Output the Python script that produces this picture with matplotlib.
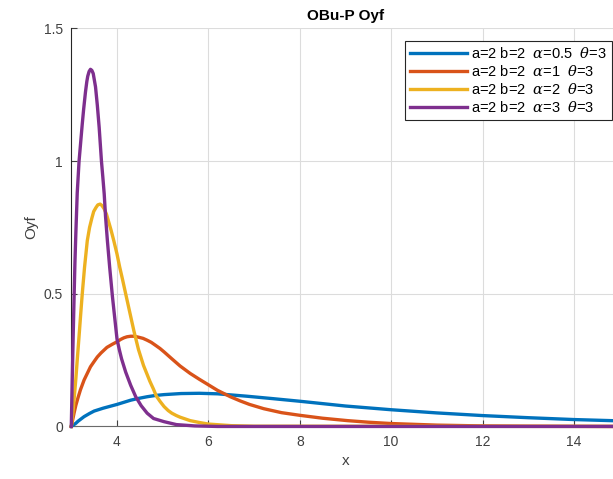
import matplotlib
matplotlib.use("Agg")
from matplotlib import pyplot as plt

plt.rcParams['font.family'] = ['Liberation Sans', 'DejaVu Sans']
plt.rcParams['mathtext.fontset'] = 'dejavuserif'

# values
blueX = [3.0, 3.05, 3.1, 3.15, 3.28, 3.4, 3.5, 3.7, 3.85, 4.0, 4.15, 4.3, 4.45, 4.66, 4.85,
         5.03, 5.4, 5.8, 6.2, 6.84, 7.4, 8.0, 8.5, 9.0, 9.5, 10.0, 11.0, 12.0, 13.0, 14.0, 15.0]
blueY = [0, 0.006, 0.012, 0.02, 0.037, 0.049, 0.058, 0.069, 0.076, 0.083, 0.091, 0.099,
         0.105, 0.112, 0.117, 0.12, 0.124, 0.125, 0.123, 0.114, 0.105, 0.095, 0.086, 0.077,
         0.07, 0.063, 0.051, 0.041, 0.033, 0.026, 0.021]

orangeX = [3.0, 3.06, 3.1, 3.15, 3.2, 3.28, 3.35, 3.42, 3.5, 3.57, 3.65, 3.78, 3.9, 4.0,
           4.08, 4.15, 4.22, 4.3, 4.38, 4.48, 4.57, 4.66, 4.75, 4.85, 4.94, 5.03, 5.2, 5.38,
           5.6, 5.8, 6.0, 6.2, 6.48, 6.7, 6.9, 7.21, 7.6, 8.0, 8.5, 9.04, 9.5, 10.0, 11.0,
           12.0, 13.0, 15.0]
orangeY = [0, 0.05, 0.08, 0.11, 0.138, 0.175, 0.2, 0.225, 0.245, 0.262, 0.277, 0.298, 0.31,
           0.319, 0.328, 0.334, 0.338, 0.34, 0.34, 0.336, 0.332, 0.325, 0.317, 0.305, 0.294,
           0.281, 0.255, 0.228, 0.2, 0.178, 0.157, 0.136, 0.112, 0.096, 0.083, 0.067, 0.052,
           0.042, 0.031, 0.022, 0.016, 0.011, 0.005, 0.002, 0.001, 0]

yellowX = [3.0, 3.04, 3.07, 3.1, 3.13, 3.17, 3.2, 3.24, 3.29, 3.35, 3.4, 3.45, 3.49, 3.54,
           3.58, 3.63, 3.67, 3.72, 3.77, 3.82, 3.87, 3.93, 4.0, 4.06, 4.12, 4.19, 4.28, 4.37,
           4.47, 4.58, 4.65, 4.72, 4.8, 4.86, 4.94, 5.03, 5.12, 5.2, 5.3, 5.38, 5.6, 5.8, 6.0,
           6.5, 7.0, 15.0]
yellowY = [0, 0.06, 0.12, 0.18, 0.25, 0.34, 0.41, 0.5, 0.6, 0.7, 0.75, 0.785, 0.81, 0.825,
           0.835, 0.838, 0.833, 0.82, 0.8, 0.77, 0.74, 0.7, 0.65, 0.6, 0.555, 0.5, 0.43, 0.36,
           0.29, 0.23, 0.2, 0.17, 0.14, 0.115, 0.095, 0.075, 0.06, 0.05, 0.041, 0.035, 0.022,
           0.015, 0.009, 0.003, 0.001, 0]

purpleX = [3.0, 3.02, 3.04, 3.06, 3.08, 3.1, 3.13, 3.17, 3.2, 3.24, 3.27, 3.31, 3.34, 3.36,
           3.39, 3.42, 3.45, 3.48, 3.5, 3.53, 3.57, 3.61, 3.66, 3.69, 3.72, 3.75, 3.79, 3.84,
           3.9, 3.95, 4.0, 4.05, 4.1, 4.19, 4.3, 4.41, 4.53, 4.66, 4.8, 5.03, 5.3, 5.7, 6.2, 15.0]
purpleY = [0, 0.17, 0.33, 0.48, 0.62, 0.73, 0.88, 1.0, 1.06, 1.14, 1.195, 1.26, 1.3, 1.32,
           1.338, 1.346, 1.342, 1.33, 1.31, 1.28, 1.21, 1.127, 1.0, 0.94, 0.877, 0.79, 0.7, 0.6,
           0.49, 0.41, 0.33, 0.29, 0.255, 0.205, 0.155, 0.112, 0.078, 0.05, 0.03, 0.018, 0.007,
           0.002, 0, 0]

labels = [r'a=2 b=2  $\alpha$=0.5  $\theta$=3',
          r'a=2 b=2  $\alpha$=1  $\theta$=3',
          r'a=2 b=2  $\alpha$=2  $\theta$=3',
          r'a=2 b=2  $\alpha$=3  $\theta$=3']
colors = ['#0072BD', '#D95319', '#EDB120', '#7E2F8E']

fig = plt.figure(figsize=(6.13, 4.79), dpi=100)
ax = fig.add_axes([0.1163, 0.1097, 0.8946, 0.8309])

series = [(blueX, blueY), (orangeX, orangeY), (yellowX, yellowY), (purpleX, purpleY)]
for (xs, ys), c, lab in zip(series, colors, labels):
    ax.plot(xs, ys, color=c, lw=2.4, label=lab, clip_on=False, zorder=3,
            solid_joinstyle='round')

ax.set_xlim(3, 15)
ax.set_ylim(0, 1.5)
ax.set_xticks([4, 6, 8, 10, 12, 14])
ax.set_yticks([0, 0.5, 1, 1.5])
ax.set_yticklabels(['0', '0.5', '1', '1.5'])
ax.grid(True, color='#dcdcdc', lw=0.8)
ax.set_axisbelow(True)
for s in ['top', 'right']:
    ax.spines[s].set_visible(False)
ax.spines['left'].set_color('#262626')
ax.spines['bottom'].set_color('#6a6a6a')
ax.tick_params(direction='in', length=4, labelsize=10, colors='#404040', pad=6)

ax.set_title('OBu-P Oyf', fontsize=11, fontweight='bold', pad=6)
ax.set_xlabel('x', fontsize=11, color='#404040')
ax.set_ylabel('Oyf', fontsize=11, color='#404040')

leg = ax.legend(loc='upper right', bbox_to_anchor=(612 / 613, 1 - 41 / 479),
                bbox_transform=fig.transFigure, fontsize=10.5, handlelength=3.9,
                labelspacing=0.2, handletextpad=0.3, borderpad=0.35,
                fancybox=False, framealpha=1, edgecolor='#262626', borderaxespad=0)
leg.get_frame().set_linewidth(0.8)

plt.savefig("out.png", dpi=100)
